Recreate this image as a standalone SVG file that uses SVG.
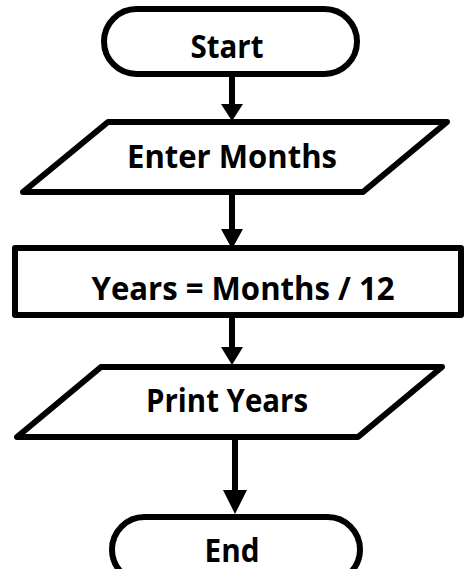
<svg xmlns="http://www.w3.org/2000/svg" width="465" height="569" viewBox="0 0 465 569">
  <defs>
    <style>
      .shape { fill: #ffffff; stroke: #000000; stroke-width: 6; stroke-linejoin: round; }
      .label { font-family: "Open Sans", "Liberation Sans", sans-serif; font-weight: bold; font-size: 32px; fill: #000000; text-anchor: middle; }
      .flow { stroke: #000000; stroke-width: 6; fill: none; }
      .head { fill: #000000; }
    </style>
  </defs>
  <rect width="465" height="569" fill="#ffffff"/>

  <!-- connectors -->
  <g id="connectors">
    <line class="flow" x1="232" y1="73" x2="232" y2="106"/>
    <polygon class="head" points="221,104 243,104 232,121"/>
    <line class="flow" x1="232" y1="192" x2="232" y2="231"/>
    <polygon class="head" points="221,229 243,229 232,249"/>
    <line class="flow" x1="232" y1="316" x2="232" y2="350"/>
    <polygon class="head" points="221,347 243,347 232,365"/>
    <line class="flow" x1="235" y1="438" x2="235" y2="493"/>
    <polygon class="head" points="223,490 247,490 235,514"/>
  </g>

  <!-- start terminal -->
  <g id="start">
    <rect class="shape" x="104" y="9" width="253" height="65" rx="32.5"/>
    <text class="label" x="227" y="58" textLength="73" lengthAdjust="spacingAndGlyphs">Start</text>
  </g>

  <!-- input: months -->
  <g id="enter-months">
    <polygon class="shape" points="108,122 447,122 363,192 23,192"/>
    <text class="label" x="232" y="168" textLength="210" lengthAdjust="spacingAndGlyphs">Enter Months</text>
  </g>

  <!-- process: conversion -->
  <g id="compute-years">
    <rect class="shape" x="15" y="248" width="446" height="67"/>
    <text class="label" x="243" y="300" textLength="303" lengthAdjust="spacingAndGlyphs">Years = Months / 12</text>
  </g>

  <!-- output: years -->
  <g id="print-years">
    <polygon class="shape" points="101,367 442,367 358,437 17,437"/>
    <text class="label" x="227" y="412" textLength="162" lengthAdjust="spacingAndGlyphs">Print Years</text>
  </g>

  <!-- end terminal -->
  <g id="end">
    <rect class="shape" x="112" y="517" width="248" height="65" rx="32.5"/>
    <text class="label" x="232" y="562" textLength="55" lengthAdjust="spacingAndGlyphs">End</text>
  </g>
</svg>
